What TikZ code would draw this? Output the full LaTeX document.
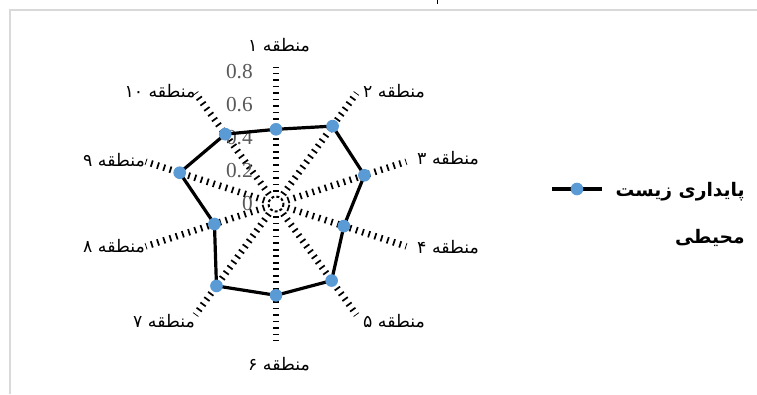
\documentclass[tikz,border=0pt]{standalone}
\usepackage{fontspec}
\setmainfont{Liberation Serif}
\newfontfamily\farsifont[Script=Arabic]{DejaVu Sans}
\TeXXeTstate=1
\usepackage{tikz}
\definecolor{seriesblue}{RGB}{91,155,213}
\definecolor{framegray}{RGB}{217,217,217}
\definecolor{tickgray}{RGB}{89,89,89}

\begin{document}
\begin{tikzpicture}[x=0.75pt,y=-0.75pt,
  axisline/.style={line width=5pt, dash pattern=on 1.3pt off 3.6pt, dash phase=1.3pt, shorten <=5.5pt},
  ringline/.style={line width=1.5pt, dash pattern=on 2.2pt off 1.6pt},
  seriesline/.style={line width=2.4pt, line join=round},
  marker/.style={circle, fill=seriesblue, inner sep=0pt, minimum size=9.5pt},
  zonelabel/.style={font=\farsifont\fontsize{13}{15}\selectfont, inner sep=0pt},
  ticklabel/.style={font=\fontsize{16}{18}\selectfont, text=tickgray, inner sep=0pt, anchor=east},
  legendtext/.style={font=\farsifont\bfseries\fontsize{14}{16}\selectfont, inner sep=0pt, anchor=east}]
\useasboundingbox (0,0) rectangle (757,394);
% frame
\draw[framegray, line width=1.5pt] (10,394) -- (10,10) -- (757,10);
\draw[line width=0.6pt] (437,0) -- (437,4);

\coordinate (c) at (276,204);
\foreach \i [evaluate=\i as \a using 36*(\i-1)-90] in {1,...,10}
  \coordinate (e\i) at ([shift={(c)}]\a:137);
\foreach \i in {1,...,10}
  \draw[axisline] (c) -- (e\i);
\draw[ringline] (c) circle (7.5);

% scale
\foreach \v [count=\i] in {0,0.2,0.4,0.6,0.8}
  \node[ticklabel] (t\i) at (253,{204-\v*166}) {\v};

% series
\foreach \v [count=\i, evaluate=\i as \a using 36*(\i-1)-90, evaluate=\v as \r using \v*166] in {0.45,0.58,0.56,0.43,0.57,0.55,0.61,0.39,0.61,0.52}
  \coordinate (p\i) at ([shift={(c)}]\a:\r);
\draw[seriesline] (p1) \foreach \i in {2,...,10}{-- (p\i)} -- cycle;
\foreach \i in {1,...,10}
  \node[marker] (m\i) at (p\i) {};

% zone names
\foreach \n/\x/\y [count=\i] in {۱/279/45,۲/394/91,۳/448/158,۴/448/247,۵/394/321,
    ۶/279/364,۷/164/321,۸/114/246,۹/114/160,۱۰/160/91}
  \node[zonelabel] (z\i) at (\x,\y) {\beginR منطقه \n\endR};

% legend
\coordinate (l1) at (552,189);
\coordinate (l2) at (602,189);
\draw[seriesline] (l1) -- (l2);
\node[marker] (lm) at (577,189) {};
\node[legendtext] (lg1) at (745,192) {\beginR پایداری زیست\endR};
\node[legendtext] (lg2) at (745,238) {\beginR محیطی\endR};
\end{tikzpicture}
\end{document}
